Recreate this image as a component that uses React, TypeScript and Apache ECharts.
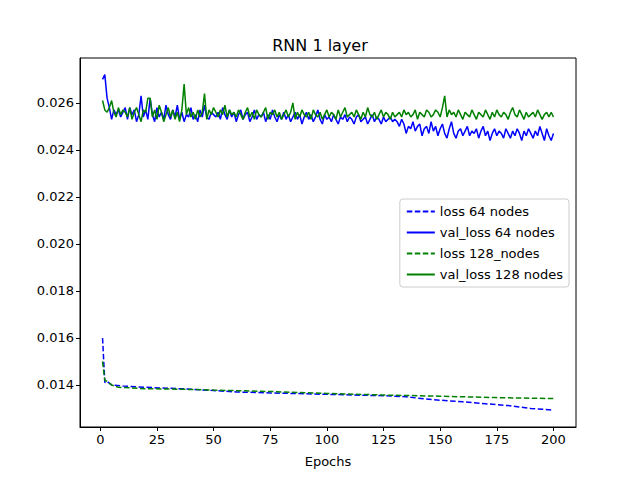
import { useRef, useEffect } from 'react';
import * as echarts from 'echarts';

// values in units of 1e-4
const SCALE = 1e-4;

const valLoss64 = [
  270, 272, 262, 258, 253, 257, 255, 257, 254, 256,
  258, 253, 258, 255, 257, 252, 255, 263, 254, 257,
  253, 262, 255, 252, 258, 254, 256, 253, 259, 255,
  253, 257, 254, 259, 253, 256, 252, 255, 254, 258,
  253, 255, 252, 257, 254, 259, 254, 253, 256, 255,
  254, 256, 253, 258, 255, 253, 257, 254, 256, 252,
  255, 257, 253, 255, 256, 252, 254, 257, 253, 255,
  254, 256, 252, 255, 253, 257, 254, 252, 255, 253,
  256, 253, 255, 252, 254, 256, 253, 255, 251, 254,
  256, 253, 255, 252, 254, 257, 253, 251, 255, 253,
  254, 252, 255, 253, 251, 254, 253, 255, 252, 254,
  253, 251, 254, 255, 252, 253, 254, 251, 253, 255,
  252, 254, 253, 251, 254, 252, 253, 254, 252, 253,
  252, 250, 253, 251, 247, 250, 249, 252, 248, 250,
  251, 246, 249, 250, 247, 252, 248, 250, 246, 249,
  251, 247, 245, 249, 252, 247, 245, 248, 249, 246,
  248, 250, 246, 248, 247, 249, 245, 248, 250, 246,
  248, 244, 247, 249, 246, 248, 247, 245, 249, 247,
  245, 248, 246, 249, 247, 244, 248, 246, 249, 247,
  245, 248, 246, 250, 247, 244, 249, 246, 244, 247,
];

const valLoss128 = [
  261, 257, 256, 258, 261, 256, 254, 258, 255, 257,
  256, 254, 258, 253, 256, 258, 255, 252, 257, 256,
  262, 262, 254, 257, 253, 259, 256, 252, 255, 258,
  254, 257, 253, 256, 252, 257, 268, 255, 258, 254,
  256, 253, 257, 254, 256, 264, 253, 257, 255, 258,
  256, 254, 257, 255, 259, 254, 257, 255, 256, 254,
  257, 255, 253, 256, 258, 254, 256, 253, 257, 255,
  254, 256, 258, 253, 256, 255, 257, 254, 256, 253,
  255, 257, 254, 256, 260, 253, 256, 254, 257, 255,
  254, 256, 253, 257, 255, 254, 256, 253, 255, 257,
  254, 256, 255, 253, 257, 254, 256, 258, 254, 255,
  256, 254, 257, 255, 253, 256, 254, 258, 255, 254,
  256, 253, 255, 257, 254, 256, 255, 253, 256, 254,
  255, 256, 254, 257, 255, 256, 254, 255, 257, 253,
  256, 255, 254, 257, 256, 254, 255, 257, 256, 254,
  258, 263, 254, 257, 255, 256, 254, 257, 255, 253,
  256, 255, 254, 257, 255, 253, 256, 255, 254, 257,
  255, 253, 256, 254, 257, 255, 254, 256, 255, 253,
  256, 258, 255, 254, 257, 255, 253, 256, 254, 255,
  256, 254, 257, 255, 253, 255, 256, 254, 256, 254,
];

// smooth training curves, read at selected epochs
const loss64Epochs = [1, 2, 3, 5, 10, 20, 30, 40, 50, 60, 75, 100, 125, 135, 140, 150, 160, 170, 180, 190, 200];
const loss64Values = [160, 141, 141.5, 140, 139.5, 139, 138.6, 138.2, 137.6, 137, 136.6, 136, 135.4, 135, 134.4, 133.5, 132.8, 132, 131.2, 130, 129.3];
const loss128Epochs = [1, 2, 3, 5, 8, 20, 35, 50, 75, 100, 125, 150, 175, 200];
const loss128Values = [150, 142, 141.5, 140, 139, 138.4, 138.2, 137.8, 137.2, 136.4, 135.7, 135.2, 134.6, 134.2];

const xTicks = [0, 25, 50, 75, 100, 125, 150, 175, 200];
const yTicks = [0.014, 0.016, 0.018, 0.02, 0.022, 0.024, 0.026];

const BLUE = '#0000ff';
const GREEN = '#008000';
const FONT = 'DejaVu Sans';

export default function App() {
  const chartRef = useRef<HTMLDivElement>(null);
  useEffect(() => {
    let chart: echarts.ECharts | undefined;
    if (chartRef.current) {
      chart = echarts.init(chartRef.current, undefined, { renderer: 'svg' });
      const seq = (v: number[]) => v.map((y, i) => [i + 1, y * SCALE]);
      const pairs = (xs: number[], ys: number[]) => xs.map((x, i) => [x, ys[i] * SCALE]);
      const line = (name: string, data: number[][], color: string, dashed: boolean) => ({
        name,
        type: 'line',
        data,
        showSymbol: false,
        symbol: 'none',
        lineStyle: { color, width: 1.5, type: dashed ? [5.5, 2.5] : 'solid' },
        itemStyle: { color },
      });
      chart.setOption({
        animation: false,
        textStyle: { fontFamily: FONT },
        title: {
          text: 'RNN 1 layer',
          left: 'center',
          top: 32,
          textStyle: { fontSize: 16, fontWeight: 'normal', color: '#000', fontFamily: FONT },
        },
        grid: {
          left: 80, right: 64, top: 58, bottom: 53,
          show: true, borderColor: '#000', borderWidth: 1,
        },
        legend: {
          orient: 'vertical',
          right: 71,
          top: 199,
          backgroundColor: '#fff',
          borderColor: '#ccc',
          borderWidth: 1,
          borderRadius: 3,
          padding: [6, 6, 6, 6],
          itemGap: 8,
          itemWidth: 28,
          itemHeight: 10,
          itemStyle: { opacity: 0 },
          textStyle: { fontSize: 13, color: '#000', fontFamily: FONT },
        },
        xAxis: {
          type: 'value',
          min: -8.95,
          max: 209.95,
          name: 'Epochs',
          nameLocation: 'middle',
          nameGap: 28,
          nameTextStyle: { fontSize: 13, color: '#000', fontFamily: FONT },
          splitLine: { show: false },
          axisLine: { show: true, onZero: false, lineStyle: { color: '#000' } },
          axisTick: { show: true, length: 4, lineStyle: { color: '#000' }, customValues: xTicks },
          axisLabel: { fontSize: 13, color: '#000', margin: 6, customValues: xTicks },
        },
        yAxis: {
          type: 'value',
          min: 0.01221,
          max: 0.02791,
          splitLine: { show: false },
          axisLine: { show: true, onZero: false, lineStyle: { color: '#000' } },
          axisTick: { show: true, length: 4, lineStyle: { color: '#000' }, customValues: yTicks },
          axisLabel: {
            fontSize: 13, color: '#000', margin: 6, customValues: yTicks,
            formatter: (v: number) => v.toFixed(3),
          },
        },
        series: [
          line('loss 64 nodes', pairs(loss64Epochs, loss64Values), BLUE, true),
          line('val_loss 64 nodes', seq(valLoss64), BLUE, false),
          line('loss 128_nodes', pairs(loss128Epochs, loss128Values), GREEN, true),
          line('val_loss 128 nodes', seq(valLoss128), GREEN, false),
        ],
      });
    }
    return () => {
      chart?.dispose();
    };
  }, []);

  return (
    <div
      ref={chartRef}
      style={{ position: 'fixed', left: 0, top: 0, width: 640, height: 480, background: '#fff' }}
    />
  );
}
